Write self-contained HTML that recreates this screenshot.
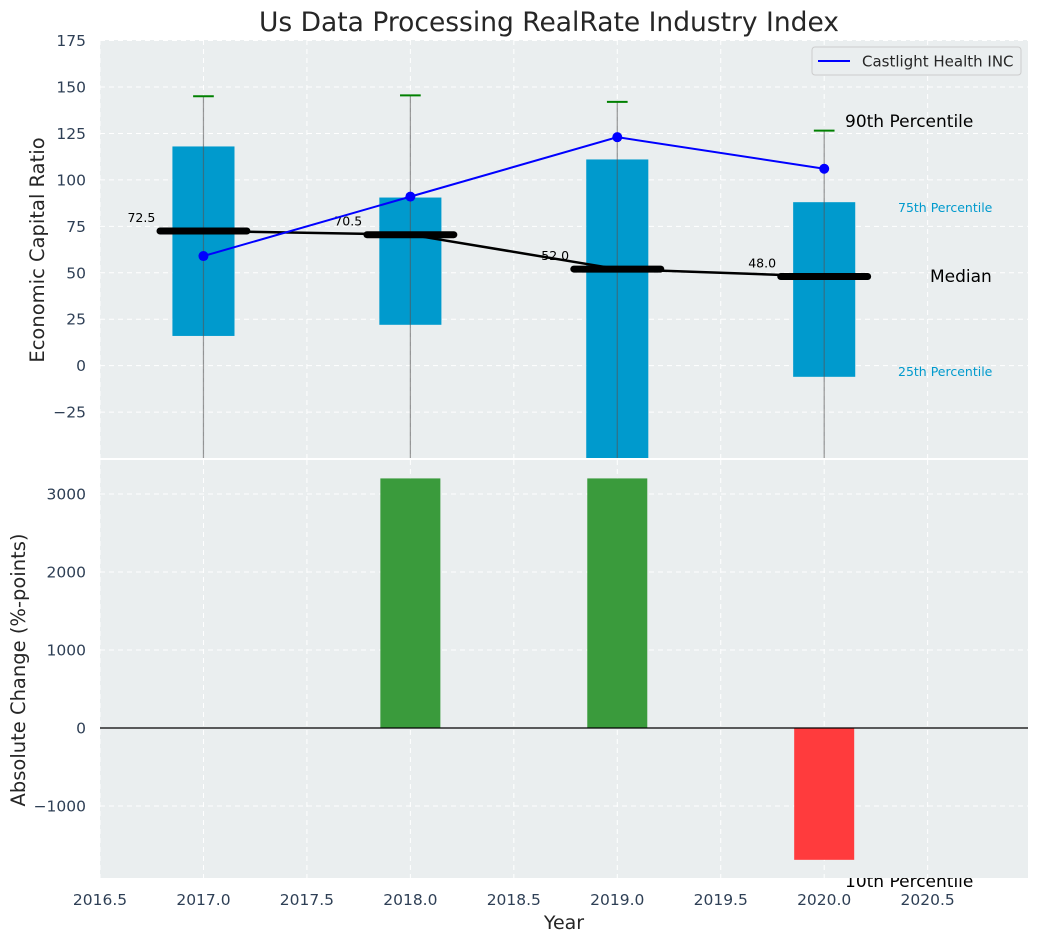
<!DOCTYPE html>
<html><head><meta charset="utf-8"><style>
body{margin:0;background:#fff}
svg{display:block;font-family:"DejaVu Sans","Liberation Sans",sans-serif}
</style></head><body>
<svg id="c" width="1039" height="942" xmlns="http://www.w3.org/2000/svg"></svg>
<script>
const years=[2017,2018,2019,2020];
const q25=[16,22,-60,-6];
const q75=[118,90.5,111,88];
const p90=[145,145.5,142,126.5];
const p10=[-80,-80,-80,-80];
const medians=[72.5,70.5,52.0,48.0];
const companyValues=[59,91,123,106];
const changes=[0,3200,3200,-1690];
const topTicks=[-25,0,25,50,75,100,125,150,175];
const botTicks=[-1000,0,1000,2000,3000];
const xTicks=[2016.5,2017,2017.5,2018,2018.5,2019,2019.5,2020,2020.5];

const NS='http://www.w3.org/2000/svg';
const svg=document.getElementById('c');
function el(t,a,p){const e=document.createElementNS(NS,t);for(const k in a)e.setAttribute(k,a[k]);(p||svg).appendChild(e);return e;}
const L=100,R=1028,T1=40,B1=458,T2=460,B2=878;
const X=v=>L+(v-2016.5)*(R-L)/(2020.985-2016.5);
const Y1=v=>T1+(175.3-v)*(B1-T1)/(175.3+49.7);
const Y2=v=>T2+(3436-v)*(B2-T2)/(3436+1923);
const TF=15.5;

const defs=el('defs',{});
const c1=el('clipPath',{id:'cp1'},defs);el('rect',{x:L,y:T1,width:R-L,height:B1-T1},c1);
const c2=el('clipPath',{id:'cp2'},defs);el('rect',{x:L,y:T2,width:R-L,height:B2-T2},c2);

let t=el('text',{x:845,y:887,'font-size':17,fill:'#000'});t.textContent='10th Percentile';


t=el('text',{x:549,y:31,'text-anchor':'middle','font-size':26.5,fill:'#262626'});t.textContent='Us Data Processing RealRate Industry Index';


const g1=el('g',{});
el('rect',{x:L,y:T1,width:R-L,height:B1-T1,fill:'#eaeeef'},g1);
const g2=el('g',{});
el('rect',{x:L,y:T2,width:R-L,height:B2-T2,fill:'#eaeeef'},g2);

xTicks.forEach(v=>{
  el('line',{x1:X(v),x2:X(v),y1:T1,y2:B1,stroke:'#fff','stroke-dasharray':'5,4','stroke-width':1},g1);
  el('line',{x1:X(v),x2:X(v),y1:T2,y2:B2,stroke:'#fff','stroke-dasharray':'5,4','stroke-width':1},g2);
  const tx=el('text',{x:X(v),y:905,'text-anchor':'middle','font-size':TF,fill:'#2e3f55'});tx.textContent=v.toFixed(1);
  
});
topTicks.forEach(v=>{
  el('line',{x1:L,x2:R,y1:Y1(v),y2:Y1(v),stroke:'#fff','stroke-dasharray':'5,4'},g1);
  const tx=el('text',{x:86,y:Y1(v)+5.5,'text-anchor':'end','font-size':TF,fill:'#2e3f55'});tx.textContent=v<0?'\u2212'+(-v):v;
  
});
botTicks.forEach(v=>{
  el('line',{x1:L,x2:R,y1:Y2(v),y2:Y2(v),stroke:'#fff','stroke-dasharray':'5,4'},g2);
  const tx=el('text',{x:86,y:Y2(v)+5.5,'text-anchor':'end','font-size':TF,fill:'#2e3f55'});tx.textContent=v<0?'\u2212'+(-v):v;
  
});

const d1=el('g',{'clip-path':'url(#cp1)'},g1);
years.forEach((yr,i)=>{
  const b=el('rect',{x:X(yr-0.15),y:Y1(q75[i]),width:X(yr+0.15)-X(yr-0.15),height:Y1(q25[i])-Y1(q75[i]),fill:'#009acd'},d1);
  
  const w=el('line',{x1:X(yr),x2:X(yr),y1:Y1(p90[i]),y2:Y1(p10[i]),stroke:'#555','stroke-opacity':0.6,'stroke-width':1.2},d1);
  
  const c=el('line',{x1:X(yr-0.05),x2:X(yr+0.05),y1:Y1(p90[i]),y2:Y1(p90[i]),stroke:'#008000','stroke-width':2},d1);
  
});
let pts=years.map((yr,i)=>X(yr)+','+Y1(medians[i])).join(' ');
el('polyline',{points:pts,fill:'none',stroke:'#000','stroke-width':2.5},d1);
years.forEach((yr,i)=>{
  const m=el('line',{x1:X(yr-0.21),x2:X(yr+0.21),y1:Y1(medians[i]),y2:Y1(medians[i]),stroke:'#000','stroke-width':7,'stroke-linecap':'round'},d1);
  
  const tx=el('text',{x:X(yr-0.3),y:Y1(medians[i])-9,'text-anchor':'middle','font-size':12.5,fill:'#000'},d1);tx.textContent=medians[i].toFixed(1);
  
});
pts=years.map((yr,i)=>X(yr)+','+Y1(companyValues[i])).join(' ');
el('polyline',{points:pts,fill:'none',stroke:'#0000ff','stroke-width':2},d1);
years.forEach((yr,i)=>{
  const p=el('circle',{cx:X(yr),cy:Y1(companyValues[i]),r:5,fill:'#0000ff'},d1);
  
});
[['90th Percentile',845,127,17,'#000'],['75th Percentile',898,212,12.5,'#009acd'],['Median',930,282,17,'#000'],['25th Percentile',898,376,12.5,'#009acd']].forEach(a=>{
  const tx=el('text',{x:a[1],y:a[2],'font-size':a[3],fill:a[4]},g1);tx.textContent=a[0];
  
});
const lg=el('g',{});
el('rect',{x:812,y:47,width:209,height:28,rx:3,fill:'#eaeeef',stroke:'#ccc'},lg);
el('line',{x1:818,x2:850,y1:61,y2:61,stroke:'#0000ff','stroke-width':2},lg);
t=el('text',{x:862,y:66.5,'font-size':15,fill:'#262626'},lg);t.textContent='Castlight Health INC';

const d2=el('g',{'clip-path':'url(#cp2)'},g2);
years.forEach((yr,i)=>{
  const v=changes[i];if(!v)return;
  const b=el('rect',{x:X(yr-0.145),y:Math.min(Y2(v),Y2(0)),width:X(yr+0.145)-X(yr-0.145),height:Math.abs(Y2(v)-Y2(0)),fill:v>0?'#3a9b3c':'#ff3b3d'},d2);
  
});
el('line',{x1:L,x2:R,y1:Y2(0),y2:Y2(0),stroke:'#000','stroke-width':1.2},d2);

t=el('text',{x:564,y:929,'text-anchor':'middle','font-size':19,fill:'#262626'});t.textContent='Year';

t=el('text',{x:0,y:0,'text-anchor':'middle','font-size':19.5,fill:'#262626',transform:'translate(44,250) rotate(-90)'});t.textContent='Economic Capital Ratio';

t=el('text',{x:0,y:0,'text-anchor':'middle','font-size':19.5,fill:'#262626',transform:'translate(25,670) rotate(-90)'});t.textContent='Absolute Change (%-points)';

</script>
</body></html>
